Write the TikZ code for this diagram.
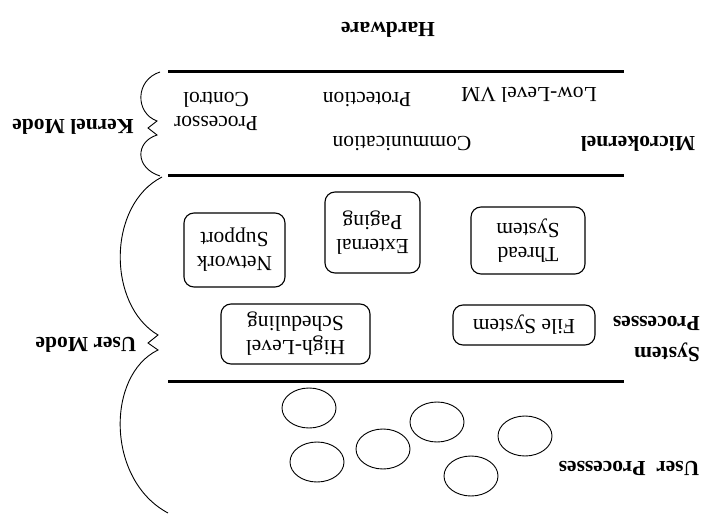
\documentclass[tikz,border=0pt]{standalone}
\usepackage{fontspec}
\setmainfont{Liberation Serif}
\usetikzlibrary{shapes.geometric}
\begin{document}
\begin{tikzpicture}[x=1pt,y=-1pt,
  txt/.style={rotate=180, font=\fontsize{21.5}{24}\selectfont, align=center, inner sep=0pt},
  btxt/.style={rotate=180, font=\fontsize{21.5}{31}\selectfont\bfseries, align=left, inner sep=0pt},
  layer/.style={line width=3pt},
  bracepath/.style={line width=0.9pt},
  procbox/.style={draw, rounded corners=10pt, line width=1.1pt, rotate=180,
    font=\fontsize{21.5}{24}\selectfont, align=center, inner sep=0pt},
  uproc/.style={draw, ellipse, line width=0.9pt, minimum width=54pt, minimum height=40pt, inner sep=0pt}
]
\useasboundingbox (0,0) rectangle (711,529);

% layer lines
\coordinate (l1a) at (168,72);  \coordinate (l1b) at (624,72);
\coordinate (l2a) at (168,176); \coordinate (l2b) at (624,176);
\coordinate (l3a) at (168,381); \coordinate (l3b) at (624,381);
\draw[layer] (l1a) -- (l1b);
\draw[layer] (l2a) -- (l2b);
\draw[layer] (l3a) -- (l3b);

% labels
\node[btxt] (hw) at (388,30) {Hardware};
\node[txt] (llvm) at (529,95) {Low-Level VM};
\node[txt] (prot) at (367,100) {Protection};
\node[txt] (pc) at (216,111) {Processor\\Control};
\node[txt] (comm) at (402,144) {Communication};
\node[btxt] (mk) at (638,144) {Microkernel};
\node[btxt] (km) at (73,127) {Kernel Mode};
\node[btxt] (um) at (86,345) {User Mode};
\node[btxt, anchor=west] (sp) at (700,339) {System\\Processes};
\node[btxt] (up) at (629,468) {User~~Processes};

% system process boxes
\node[procbox, minimum width=101pt, minimum height=74pt] (net) at (234.5,250) {Network\\Support};
\node[procbox, minimum width=95pt, minimum height=81pt] (ext) at (372.5,232.5) {External\\Paging};
\node[procbox, minimum width=114pt, minimum height=67pt] (thr) at (528,240.5) {Thread\\System};
\node[procbox, minimum width=149pt, minimum height=60pt] (hls) at (295.5,334) {High-Level\\Scheduling};
\node[procbox, minimum width=142pt, minimum height=40pt] (fs) at (524,325) {File System};

% user processes
\node[uproc] (u1) at (309,408) {};
\node[uproc] (u2) at (317,462) {};
\node[uproc] (u3) at (383,449) {};
\node[uproc] (u4) at (437,422) {};
\node[uproc] (u5) at (471,476) {};
\node[uproc] (u6) at (525,436) {};

% kernel brace
\coordinate (kb1) at (160,72);
\coordinate (kb2) at (157,121);
\coordinate (kbt) at (148,128);
\coordinate (kb3) at (157,135);
\coordinate (kb4) at (160,176);
\draw[bracepath] (kb1) .. controls (135,80) and (135,113) .. (kb2) -- (kbt) -- (kb3)
  .. controls (135,142) and (135,168) .. (kb4);

% user brace
\coordinate (ub1) at (162,177);
\coordinate (ub2) at (158,335);
\coordinate (ubt) at (148,343);
\coordinate (ub3) at (158,350);
\coordinate (ub4) at (168,513);
\draw[bracepath] (ub1) .. controls (107,205) and (107,305) .. (ub2) -- (ubt) -- (ub3)
  .. controls (106,375) and (106,480) .. (ub4);
\end{tikzpicture}
\end{document}
